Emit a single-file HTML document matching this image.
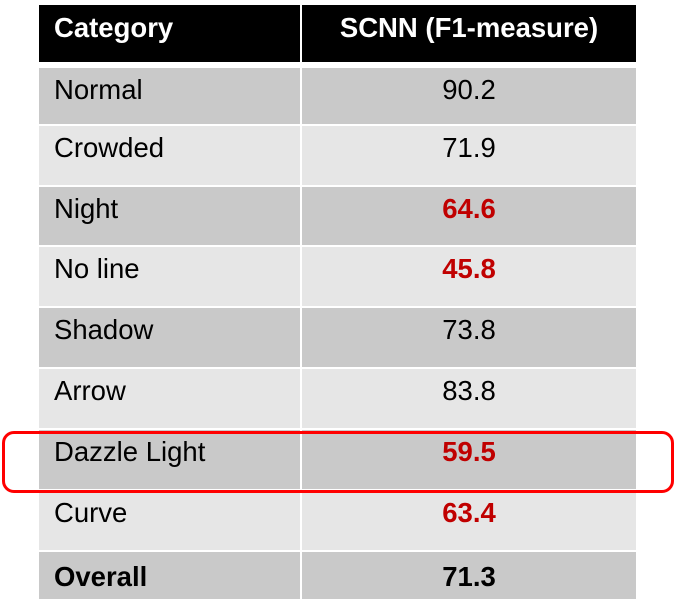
<!DOCTYPE html>
<html><head><meta charset="utf-8"><style>
body{margin:0;width:675px;height:608px;background:#fff;position:relative;overflow:hidden;font-family:"Liberation Sans",Arial,sans-serif;}
.c{position:absolute;box-sizing:border-box;font-size:27.5px;line-height:32px;color:#000;}
.l{left:39px;width:261px;padding-left:15px;}
.r{left:302px;width:334px;text-align:center;}
.h{background:#000;color:#fff;font-weight:bold;}
.d{background:#c9c9c9}.w{background:#e6e6e6}
.red{color:#c00000;font-weight:bold}
.b{font-weight:bold}
#box{position:absolute;left:2px;top:431px;width:672px;height:62px;box-sizing:border-box;border:3.5px solid #ff0000;border-radius:12px;}
</style></head><body>
<div id="t"></div>
<div id="box"></div>
<script>
const categories=["Normal","Crowded","Night","No line","Shadow","Arrow","Dazzle Light","Curve","Overall"];
const values=["90.2","71.9","64.6","45.8","73.8","83.8","59.5","63.4","71.3"];
const redFlags=[0,0,1,1,0,0,1,1,0];
const tops=[68,126,187,247,308,369,430,491,552];
const bots=[124,185,245,306,367,428,489,550,599];
const t=document.getElementById('t');
function cell(cls,top,h,txt,pad){
  const e=document.createElement('div');
  e.className='c '+cls;
  e.style.top=top+'px';e.style.height=h+'px';e.style.paddingTop=pad+'px';
  e.textContent=txt;
  t.appendChild(e);return e;
}
let e=cell('l h',5,57,'Category',7);


e=cell('r h',5,57,'SCNN (F1-measure)',7);


categories.forEach((c,i)=>{
  const bg=i%2==0?'d':'w';
  const last=i==categories.length-1;
  const h=bots[i]-tops[i];
  const pad=last?9:6;
  let a=cell('l '+bg+(last?' b':''),tops[i],h,c,pad);
  
  
  let b=cell('r '+bg+(redFlags[i]?' red':'')+(last?' b':''),tops[i],h,values[i],pad);
  
  
});
</script>
</body></html>
